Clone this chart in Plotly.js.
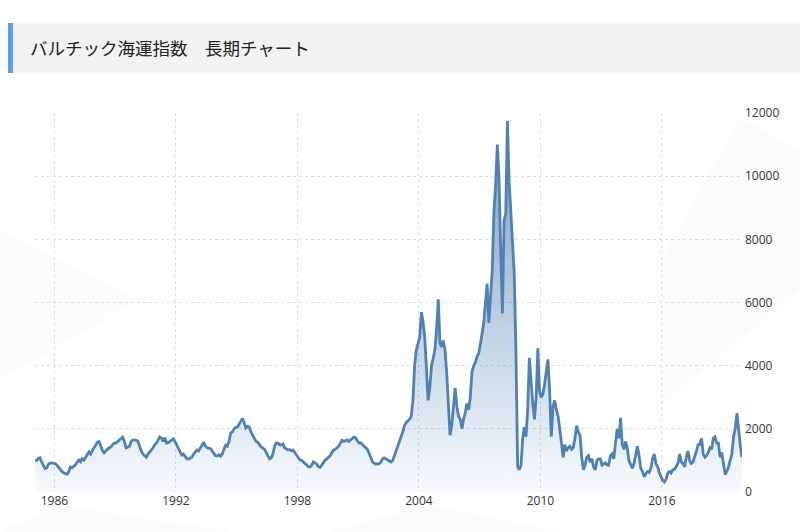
<!DOCTYPE html>
<html>
<head>
<meta charset="utf-8">
<script src="https://cdn.plot.ly/plotly-3.0.1.min.js"></script>
<style>
html,body{margin:0;padding:0;background:#fff;}
#chart{width:800px;height:532px;}
</style>
</head>
<body>
<div id="chart"></div>
<script>
// Baltic Dry Index, monthly estimates
const startYear = 1985;
const bdi1985 = [1010, 1000, 1060, 1080, 950, 850, 740, 760, 880, 920, 910, 900];
const bdi1986 = [900, 850, 780, 700, 650, 610, 580, 560, 640, 790, 770, 820];
const bdi1987 = [860, 950, 1010, 960, 1050, 1010, 1100, 1180, 1270, 1200, 1320, 1400];
const bdi1988 = [1480, 1580, 1600, 1450, 1320, 1240, 1280, 1350, 1400, 1420, 1500, 1550];
const bdi1989 = [1550, 1600, 1660, 1700, 1740, 1600, 1400, 1420, 1450, 1600, 1650, 1640];
const bdi1990 = [1640, 1600, 1450, 1300, 1200, 1150, 1100, 1200, 1260, 1330, 1400, 1500];
const bdi1991 = [1550, 1650, 1740, 1700, 1600, 1720, 1550, 1560, 1600, 1650, 1680, 1600];
const bdi1992 = [1500, 1400, 1300, 1170, 1200, 1100, 1050, 1040, 1060, 1100, 1200, 1280];
const bdi1993 = [1330, 1300, 1400, 1500, 1580, 1450, 1400, 1390, 1380, 1300, 1200, 1150];
const bdi1994 = [1140, 1180, 1140, 1200, 1350, 1480, 1450, 1600, 1870, 1900, 2000, 2050];
const bdi1995 = [2060, 2150, 2250, 2330, 2200, 2030, 2080, 2060, 1900, 1800, 1650, 1600];
const bdi1996 = [1580, 1500, 1430, 1400, 1350, 1250, 1150, 1050, 1080, 1200, 1450, 1550];
const bdi1997 = [1550, 1500, 1490, 1520, 1400, 1350, 1330, 1340, 1300, 1330, 1250, 1200];
const bdi1998 = [1100, 1010, 1000, 960, 920, 860, 800, 790, 850, 950, 920, 880];
const bdi1999 = [800, 780, 850, 950, 1010, 1050, 1100, 1150, 1250, 1330, 1350, 1400];
const bdi2000 = [1450, 1550, 1640, 1600, 1620, 1650, 1600, 1660, 1690, 1740, 1720, 1620];
const bdi2001 = [1550, 1560, 1500, 1450, 1400, 1350, 1250, 1100, 950, 900, 880, 890];
const bdi2002 = [900, 950, 1050, 1080, 1050, 1000, 980, 950, 1000, 1150, 1300, 1450];
const bdi2003 = [1600, 1720, 1900, 2100, 2200, 2250, 2300, 2400, 2900, 4000, 4500, 4700];
const bdi2004 = [4900, 5700, 5400, 4900, 4000, 2900, 3300, 4000, 4250, 4500, 5200, 6100];
const bdi2005 = [4700, 4600, 4800, 4500, 3800, 2500, 1800, 2100, 2800, 3300, 2700, 2400];
const bdi2006 = [2300, 2000, 2300, 2500, 2800, 2600, 3000, 3800, 4000, 4100, 4300, 4400];
const bdi2007 = [4700, 5000, 5350, 6000, 6600, 5350, 6200, 7000, 8900, 9700, 11000, 9950];
const bdi2008 = [7650, 5650, 8600, 8800, 11750, 9800, 8900, 7800, 6900, 4500, 800, 700];
const bdi2009 = [850, 1700, 2050, 1750, 2600, 4250, 3350, 2800, 2300, 3000, 4550, 3200];
const bdi2010 = [3000, 3100, 3400, 3800, 4200, 3200, 1750, 2700, 2900, 2600, 2400, 2000];
const bdi2011 = [1500, 1100, 1500, 1300, 1400, 1450, 1350, 1400, 1700, 2100, 1900, 1800];
const bdi2012 = [1100, 700, 850, 1100, 1150, 950, 1050, 800, 700, 1000, 1050, 1050];
const bdi2013 = [850, 900, 920, 860, 850, 1150, 1200, 1050, 1500, 2000, 1700, 2350];
const bdi2014 = [1500, 1350, 1600, 1400, 1000, 850, 750, 900, 1200, 1450, 1150, 750];
const bdi2015 = [650, 480, 580, 650, 620, 750, 1050, 1200, 900, 800, 600, 480];
const bdi2016 = [370, 320, 400, 600, 650, 600, 700, 720, 800, 900, 1200, 950];
const bdi2017 = [900, 800, 1100, 1300, 1000, 900, 950, 1100, 1300, 1500, 1500, 1700];
const bdi2018 = [1200, 1100, 1150, 1250, 1400, 1350, 1700, 1750, 1550, 1550, 1100, 1250];
const bdi2019 = [900, 550, 650, 780, 1000, 1200, 1750, 2000, 2500, 1900, 1450, 1100];

const bdiYears = [bdi1985, bdi1986, bdi1987, bdi1988, bdi1989, bdi1990, bdi1991, bdi1992,
  bdi1993, bdi1994, bdi1995, bdi1996, bdi1997, bdi1998, bdi1999, bdi2000, bdi2001, bdi2002,
  bdi2003, bdi2004, bdi2005, bdi2006, bdi2007, bdi2008, bdi2009, bdi2010, bdi2011, bdi2012,
  bdi2013, bdi2014, bdi2015, bdi2016, bdi2017, bdi2018, bdi2019];

const yTicks = [0, 2000, 4000, 6000, 8000, 10000, 12000];
const yTickText = ['0', '2000', '4000', '6000', '8000', '10000', '12000'];
const xTicks = ['1986-01-01', '1992-01-01', '1998-01-01', '2004-01-01', '2010-01-01', '2016-01-01'];
const xTickText = ['1986', '1992', '1998', '2004', '2010', '2016'];
const titleText = 'バルチック海運指数　長期チャート';

const dates = [], values = [];
bdiYears.forEach((arr, i) => {
  arr.forEach((v, m) => {
    const mm = String(m + 1).padStart(2, '0');
    dates.push((startYear + i) + '-' + mm + '-15');
    values.push(v);
  });
});

// pixel-to-paper helpers for decoration (plot area: x 35..742, y 113..492)
const L = 35, R = 742, T = 113, B = 492;
const px = x => (x - L) / (R - L);
const py = y => (B - y) / (B - T);

const trace = {
  x: dates, y: values, type: 'scatter', mode: 'lines',
  line: {color: '#4f81b3', width: 2.8},
  fill: 'tozeroy',
  fillgradient: {type: 'vertical', start: 0, stop: 12000,
    colorscale: [[0, 'rgba(79,129,179,0.04)'], [1, 'rgba(79,129,179,0.78)']]},
  hoverinfo: 'x+y'
};

function poly(pts, color) {
  return {type: 'path', xref: 'paper', yref: 'paper', layer: 'below', line: {width: 0},
    fillcolor: color,
    path: 'M ' + pts.map(p => px(p[0]) + ',' + py(p[1])).join(' L ') + ' Z'};
}

const layout = {
  width: 800, height: 532,
  margin: {l: L, r: 800 - R, t: T, b: 532 - B, pad: 0},
  paper_bgcolor: '#ffffff', plot_bgcolor: 'rgba(0,0,0,0)',
  showlegend: false,
  title: {text: titleText, x: 30 / 800, xanchor: 'left', xref: 'container',
    y: 1 - 49 / 532, yanchor: 'middle', yref: 'container',
    font: {family: '"Noto Sans CJK JP", "Noto Sans", sans-serif', size: 17.5, color: '#222'}},
  xaxis: {type: 'date', range: [dates[0], dates[dates.length - 1]],
    tickvals: xTicks, ticktext: xTickText, ticks: '',
    showgrid: true, gridcolor: '#dcdcdc', griddash: 'dot', gridwidth: 1,
    zeroline: false, showline: false,
    tickfont: {family: '"Open Sans", "Liberation Sans", sans-serif', size: 12, color: '#333'}},
  yaxis: {range: [0, 12000], side: 'right', tickvals: yTicks, ticktext: yTickText, ticks: '',
    showgrid: true, gridcolor: '#dcdcdc', griddash: 'dot', gridwidth: 1,
    zeroline: false, showline: false, ticklabelstandoff: 2,
    tickfont: {family: '"Open Sans", "Liberation Sans", sans-serif', size: 12, color: '#333'}},
  shapes: [
    poly([[0, 230], [140, 300], [0, 380]], '#fcfcfd'),
    poly([[740, 118], [800, 150], [800, 290], [662, 405], [662, 260]], '#fafbfb'),
    poly([[0, 532], [60, 505], [230, 532]], '#fbfbfc'),
    poly([[330, 532], [430, 505], [560, 532]], '#fbfbfc'),
    poly([[8, 23], [800, 23], [800, 73], [8, 73]], '#f2f2f2'),
    poly([[8, 23], [13, 23], [13, 73], [8, 73]], '#5aa0ea')
  ]
};

Plotly.newPlot('chart', [trace], layout, {displayModeBar: false, staticPlot: true});
</script>
</body>
</html>
